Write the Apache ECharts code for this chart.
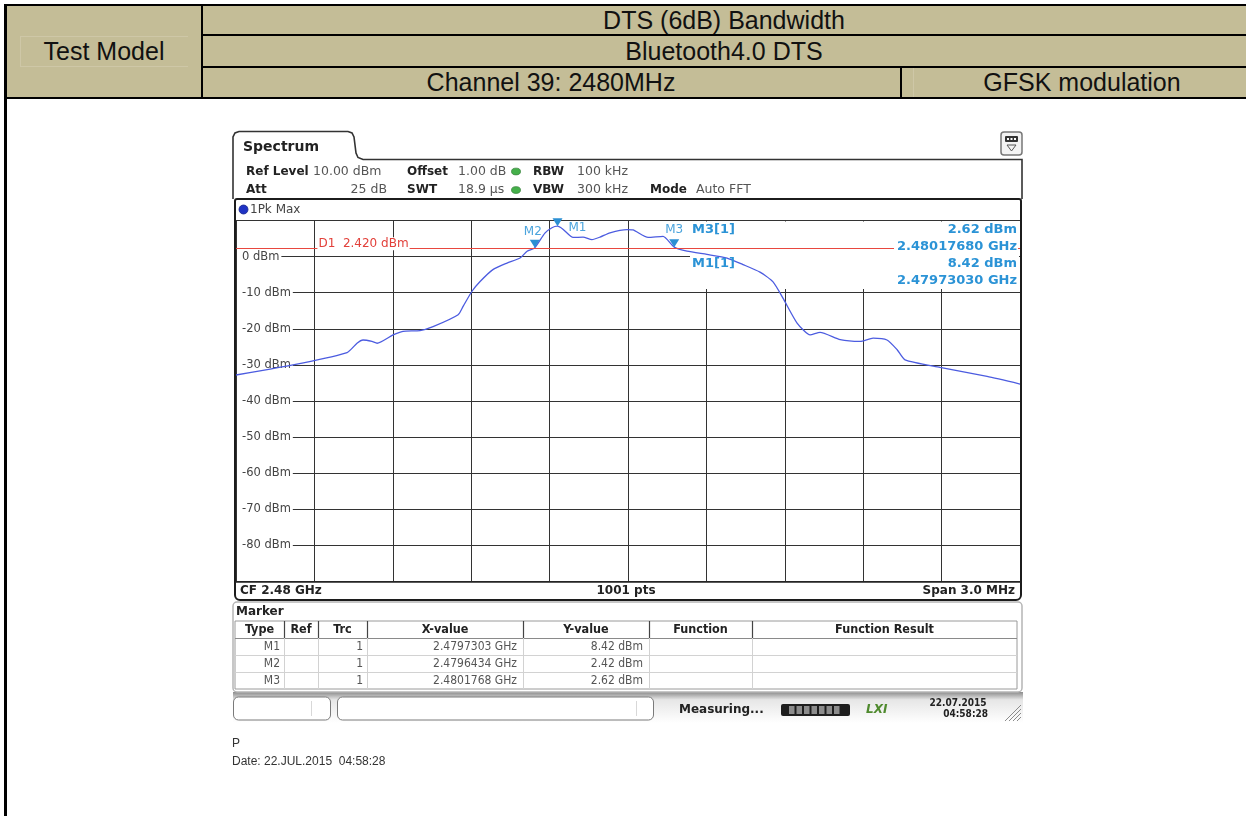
<!DOCTYPE html>
<html>
<head>
<meta charset="utf-8">
<title>DTS (6dB) Bandwidth</title>
<script src="https://cdn.jsdelivr.net/npm/echarts@6/dist/echarts.min.js"></script>
<style>
    html, body { margin: 0; padding: 0; background: #fff; }
    #page { position: relative; width: 1246px; height: 816px; overflow: hidden; }
    #chart { position: absolute; left: 0; top: 0; width: 1246px; height: 816px; }
    .bar { position: absolute; background: #000; }
    .thin { position: absolute; background: #cec7a7; }
    .fill { position: absolute; background: #c4bd97; }
    .head { position: absolute; transform: translate(-50%, -50%); white-space: nowrap;
            font-family: "Liberation Sans", Arial, sans-serif; font-size: 25px; color: #111; }
    .foot { position: absolute; left: 232px; white-space: pre; transform: translateY(-50%);
            font-family: "Liberation Sans", Arial, sans-serif; font-size: 12px; color: #333; }
</style>
</head>
<body>
<div id="page">
    <div id="chart"></div>

    <!-- report table header -->
    <div class="fill" style="left:6px;top:6px;width:1240px;height:91px;"></div>
    <div class="thin" style="left:20px;top:36px;width:168px;height:1px;"></div>
    <div class="thin" style="left:20px;top:66px;width:168px;height:1px;"></div>
    <div class="thin" style="left:20px;top:36px;width:1px;height:30px;"></div>
    <div class="thin" style="left:913px;top:68px;width:1px;height:29px;"></div>
    <div class="bar" style="left:4px;top:4px;width:1242px;height:2px;"></div>
    <div class="bar" style="left:201px;top:34px;width:1045px;height:2px;"></div>
    <div class="bar" style="left:201px;top:66px;width:1045px;height:2px;"></div>
    <div class="bar" style="left:4px;top:97px;width:1242px;height:2px;"></div>
    <div class="bar" style="left:4px;top:4px;width:3px;height:812px;"></div>
    <div class="bar" style="left:201px;top:4px;width:2px;height:95px;"></div>
    <div class="bar" style="left:900px;top:66px;width:2px;height:33px;"></div>
    <div class="head" style="left:104px;top:51px;">Test Model</div>
    <div class="head" style="left:724px;top:20px;">DTS (6dB) Bandwidth</div>
    <div class="head" style="left:724px;top:51px;">Bluetooth4.0 DTS</div>
    <div class="head" style="left:551px;top:82px;">Channel 39: 2480MHz</div>
    <div class="head" style="left:1082px;top:82px;">GFSK modulation</div>

    <div class="foot" style="top:743px;">P</div>
    <div class="foot" style="top:761px;">Date: 22.JUL.2015  04:58:28</div>
</div>

<script>
// analyzer settings
var cfMHz = 2480;
var spanMHz = 3.0;
var yTicks = [10, 0, -10, -20, -30, -40, -50, -60, -70, -80, -90];

// trace 1 (1Pk Max): offset from CF in MHz / level in dBm
var freqOffsetMHz = [-1.500, -1.247, -1.075, -1.037, -1.014, -0.980, -0.960, -0.899, -0.861, -0.796,
    -0.746, -0.650, -0.631, -0.597, -0.566, -0.517, -0.463, -0.413, -0.386, -0.357,
    -0.318, -0.291, -0.270, -0.249, -0.210, -0.172, -0.138, -0.107, -0.069, -0.004,
    0.019, 0.077, 0.134, 0.177, 0.226, 0.302, 0.379, 0.440, 0.505, 0.555,
    0.593, 0.647, 0.697, 0.735, 0.812, 0.888, 0.938, 0.991, 1.030, 1.060,
    1.194, 1.374, 1.500];
var traceDbm = [-32.8, -29.5, -26.6, -24.0, -23.1, -23.5, -24.0, -21.7, -20.7, -20.5,
    -19.4, -16.1, -13.8, -9.6, -6.9, -3.6, -1.8, -0.4, 1.5, 2.42,
    6.5, 8.0, 8.42, 7.6, 5.3, 5.4, 4.7, 5.4, 6.6, 7.5,
    7.4, 5.3, 5.6, 2.62, 1.5, 0.6, -0.4, -2.2, -4.3, -7.0,
    -11.5, -18.4, -21.7, -21.0, -23.0, -23.5, -22.6, -23.1, -25.8, -28.6,
    -30.7, -33.2, -35.3];

// markers
var markerNames = ['M1', 'M2', 'M3'];
var markerTrace = [1, 1, 1];
var markerFreqGHz = [2.4797303, 2.4796434, 2.4801768];
var markerLevelDbm = [8.42, 2.42, 2.62];
var d1LevelDbm = 2.42;
var tableColumns = ['Type', 'Ref', 'Trc', 'X-value', 'Y-value', 'Function', 'Function Result'];

var FONT = '"DejaVu Sans", Verdana, sans-serif';
var FONT_C = '"DejaVu Sans Condensed", "DejaVu Sans", sans-serif';

function txt(x, y, s, font, fill, align, z, bg) {
    var st = {
        text: s, font: font, fill: fill,
        textAlign: align || 'left', textVerticalAlign: 'middle',
        align: align || 'left', verticalAlign: 'middle'
    };
    if (bg) {
        st.backgroundColor = bg;
        st.padding = [1, 1, 1, 3];
    }
    return { type: 'text', x: x, y: y, z: z || 20, silent: true, style: st };
}
function box(x, y, w, h, fill, stroke, lw, r, z) {
    return {
        type: 'rect', z: z || 5, silent: true,
        shape: { x: x, y: y, width: w, height: h, r: r || 0 },
        style: { fill: fill || 'none', stroke: stroke || 'none', lineWidth: lw || 1 }
    };
}
function seg(x1, y1, x2, y2, color, lw, z) {
    return {
        type: 'line', z: z || 6, silent: true,
        shape: { x1: x1, y1: y1, x2: x2, y2: y2 },
        style: { stroke: color, lineWidth: lw || 1 }
    };
}

var g = [];

// tab + outer frame
g.push({
    type: 'polyline', z: 5, silent: true,
    shape: { points: [[233, 199], [233, 137], [235, 133], [239, 131.5], [348, 131.5], [352, 133], [354, 137],
        [356, 153], [358, 157.5], [363, 159.5], [1022, 159.5], [1022, 199]] },
    style: { stroke: '#333', lineWidth: 1.6, fill: 'none' }
});
g.push(txt(243, 147, 'Spectrum', 'bold 14px ' + FONT, '#222'));

// small icon top right
g.push(box(1001, 132, 21, 23, '#f3f3f3', '#777', 1.5, 3));
g.push(box(1005, 136, 13, 6, '#333', null, 1, 1, 6));
g.push(box(1007, 138, 2, 2, '#fff', null, 1, 0, 7));
g.push(box(1010.5, 138, 2, 2, '#fff', null, 1, 0, 7));
g.push(box(1014, 138, 2, 2, '#fff', null, 1, 0, 7));
g.push({
    type: 'polygon', z: 6, silent: true,
    shape: { points: [[1007, 145], [1016, 145], [1011.5, 151]] },
    style: { fill: 'none', stroke: '#555', lineWidth: 1 }
});

// setting lines
var fb = 'bold 12px ' + FONT, fn = '12.5px ' + FONT;
g.push(txt(246, 171.5, 'Ref Level', fb, '#222'));
g.push(txt(313, 171.5, '10.00 dBm', fn, '#555'));
g.push(txt(407, 171.5, 'Offset', fb, '#222'));
g.push(txt(458, 171.5, '1.00 dB', fn, '#555'));
g.push(txt(533, 171.5, 'RBW', fb, '#222'));
g.push(txt(577, 171.5, '100 kHz', fn, '#555'));
g.push(txt(246, 190, 'Att', fb, '#222'));
g.push(txt(387, 190, '25 dB', fn, '#555', 'right'));
g.push(txt(407, 190, 'SWT', fb, '#222'));
g.push(txt(458, 190, '18.9 µs', fn, '#555'));
g.push(txt(533, 190, 'VBW', fb, '#222'));
g.push(txt(577, 190, '300 kHz', fn, '#555'));
g.push(txt(650, 190, 'Mode', fb, '#222'));
g.push(txt(696, 190, 'Auto FFT', fn, '#555'));
[171.5, 190].forEach(function (yy) {
    g.push({
        type: 'circle', x: 516, y: yy, scaleY: 0.75, z: 6, silent: true,
        shape: { cx: 0, cy: 0, r: 4.5 },
        style: { fill: '#45b04a', stroke: '#2f7d33', lineWidth: 0.8 }
    });
});

// plot frame
g.push(box(235, 199, 786, 401, 'none', '#1c1c1c', 2, [2, 2, 5, 5], 50));
g.push({
    type: 'circle', z: 20, silent: true,
    shape: { cx: 243.5, cy: 209.5, r: 4.5 },
    style: { fill: '#1f33c4', stroke: '#17248a', lineWidth: 0.8 }
});
g.push(txt(250, 209.5, '1Pk Max', '12px ' + FONT, '#444'));
g.push(seg(235, 582, 1021, 582, '#222', 1.5, 50));
g.push(txt(240, 591, 'CF 2.48 GHz', 'bold 12px ' + FONT, '#222'));
g.push(txt(626, 591, '1001 pts', 'bold 12px ' + FONT, '#222', 'center'));
g.push(txt(1015, 591, 'Span 3.0 MHz', 'bold 12px ' + FONT, '#222', 'right'));

// marker readout in the top right corner of the diagram
g.push(box(690, 221.5, 329, 67.5, '#fff', null, 1, 0, 1));
var fm = 'bold 13px ' + FONT, cm = '#2b93d6';
[2, 0].forEach(function (mi, row) {
    var y0 = 229.5 + row * 34.5;
    g.push(txt(692, y0, markerNames[mi] + '[' + markerTrace[mi] + ']', fm, cm, 'left', 100));
    g.push(txt(1018, y0, markerLevelDbm[mi].toFixed(2) + ' dBm', fm, cm, 'right', 100, '#fff'));
    g.push(txt(1018, y0 + 17, markerFreqGHz[mi].toFixed(8) + ' GHz', fm, cm, 'right', 100, '#fff'));
});

// marker table panel
g.push(box(233, 602, 789, 90, '#fff', '#b5b5b5', 1.5, 4, 5));
g.push(txt(236, 611.5, 'Marker', 'bold 12px ' + FONT, '#222'));
var colX = [235, 284, 318, 367, 523, 649, 752, 1017];
var rowY = [621, 638, 655, 672, 689];
g.push(box(235, 621, 782, 68, '#fff', '#9a9a9a', 1, 0, 6));
for (var r = 1; r < rowY.length - 1; r++) {
    g.push(seg(235, rowY[r] + 0.5, 1017, rowY[r] + 0.5, r === 1 ? '#8a8a8a' : '#d2d2d2', 1, 7));
}
for (var c = 1; c < colX.length - 1; c++) {
    g.push(seg(colX[c] + 0.5, 621, colX[c] + 0.5, 638, '#444', 1.2, 7));
    g.push(seg(colX[c] + 0.5, 638, colX[c] + 0.5, 689, '#d2d2d2', 1, 7));
}
tableColumns.forEach(function (name, c) {
    g.push(txt((colX[c] + colX[c + 1]) / 2, 629.5, name, 'bold 12.5px ' + FONT_C, '#222', 'center'));
});
markerNames.forEach(function (name, i) {
    var yy = (rowY[i + 1] + rowY[i + 2]) / 2;
    var f = '12px ' + FONT_C, col = '#555';
    g.push(txt(colX[1] - 4, yy, name, f, col, 'right'));
    g.push(txt(colX[3] - 4, yy, String(markerTrace[i]), f, col, 'right'));
    g.push(txt(colX[4] - 6, yy, markerFreqGHz[i].toFixed(7) + ' GHz', f, col, 'right'));
    g.push(txt(colX[5] - 6, yy, markerLevelDbm[i].toFixed(2) + ' dBm', f, col, 'right'));
});

// status bar
g.push({
    type: 'rect', z: 4, silent: true,
    shape: { x: 233, y: 692, width: 790, height: 31 },
    style: {
        fill: new echarts.graphic.LinearGradient(0, 0, 0, 1, [
            { offset: 0, color: '#8c8c8c' }, { offset: 0.25, color: '#e6e6e6' }, { offset: 1, color: '#ffffff' }
        ])
    }
});
g.push(box(233.5, 697, 97, 23, '#fff', '#7a7a7a', 1, 5, 6));
g.push(seg(311.5, 701, 311.5, 716, '#d8d8d8', 1, 7));
g.push(box(337.5, 697, 316, 23, '#fff', '#7a7a7a', 1, 5, 6));
g.push(seg(636.5, 701, 636.5, 716, '#d8d8d8', 1, 7));
g.push(txt(679, 710, 'Measuring...', 'bold 12px ' + FONT, '#222'));
g.push(box(781, 704, 69, 12, '#1e1e1e', null, 1, 2, 6));
for (var k = 0; k < 7; k++) {
    g.push(box(789 + k * 7.5, 706, 5.5, 8, '#8c8c8c', null, 1, 0, 7));
}
g.push(txt(866, 710, 'LXI', 'italic bold 12px ' + FONT, '#4f8a2e'));
g.push(txt(958, 703.5, '22.07.2015', 'bold 10px ' + FONT_C, '#222', 'center'));
g.push(txt(988, 714, '04:58:28', 'bold 10px ' + FONT_C, '#222', 'right'));
for (var h = 0; h < 4; h++) {
    g.push(seg(1021, 705 + h * 4, 1005 + h * 4, 721, '#8a8a8a', 1, 7));
}

// ---- chart ----
var myChart = echarts.init(document.getElementById('chart'), null, { renderer: 'canvas' });

var traceData = freqOffsetMHz.map(function (f, i) { return [f, traceDbm[i]]; });
var markerLabels = [
    { position: 'right', distance: 6, offset: [0, 6] },
    { position: 'top', distance: 2, offset: [-2, 0] },
    { position: 'top', distance: 3 }
];
var markPointData = markerNames.map(function (name, i) {
    return {
        name: name,
        coord: [markerFreqGHz[i] * 1000 - cfMHz, markerLevelDbm[i]],
        label: markerLabels[i]
    };
});
// D1 display line label, one division right of the left edge
markPointData.push({
    name: 'D1',
    coord: [-spanMHz / 2 + spanMHz / 10, d1LevelDbm],
    symbol: 'circle',
    symbolSize: 0,
    label: {
        formatter: 'D1  ' + d1LevelDbm.toFixed(3) + ' dBm',
        position: 'right', distance: 3,
        color: '#e2403a', backgroundColor: '#fff', padding: [1, 1, 0, 1]
    }
});

var option = {
    animation: false,
    grid: { left: 236, top: 220.5, width: 784, height: 361 },
    xAxis: {
        type: 'value',
        min: -spanMHz / 2,
        max: spanMHz / 2,
        interval: spanMHz / 10,
        axisLine: { show: false },
        axisTick: { show: false },
        axisLabel: { show: false },
        splitLine: { show: true, lineStyle: { color: '#333', width: 1 } }
    },
    yAxis: {
        type: 'value',
        min: yTicks[yTicks.length - 1],
        max: yTicks[0],
        interval: yTicks[0] - yTicks[1],
        axisLine: { show: false },
        axisTick: { show: false },
        axisLabel: {
            inside: true,
            margin: 1,
            showMinLabel: false,
            showMaxLabel: false,
            formatter: function (v) { return v + ' dBm'; },
            color: '#444',
            fontSize: 11.5,
            fontFamily: 'DejaVu Sans',
            backgroundColor: '#fff',
            padding: [1, 2, 1, 5]
        },
        splitLine: { show: true, lineStyle: { color: '#333', width: 1 } }
    },
    graphic: { elements: g },
    series: [
        {
            name: '1Pk Max',
            type: 'line',
            data: traceData,
            showSymbol: false,
            smooth: 0.2,
            z: 2,
            lineStyle: { color: '#4c5ce0', width: 1.3 },
            markLine: {
                silent: true,
                symbol: ['none', 'none'],
                label: { show: false },
                lineStyle: { color: '#e8473f', width: 1, type: 'solid' },
                data: [{ yAxis: d1LevelDbm }]
            },
            markPoint: {
                silent: true,
                symbol: 'triangle',
                symbolRotate: 180,
                symbolSize: [10, 8],
                symbolOffset: [0, -4],
                itemStyle: { color: '#2b8fd3' },
                label: {
                    show: true,
                    formatter: '{b}',
                    color: '#4ba4dd',
                    fontSize: 12,
                    fontFamily: 'DejaVu Sans'
                },
                data: markPointData
            }
        }
    ]
};
myChart.setOption(option);
</script>
</body>
</html>
